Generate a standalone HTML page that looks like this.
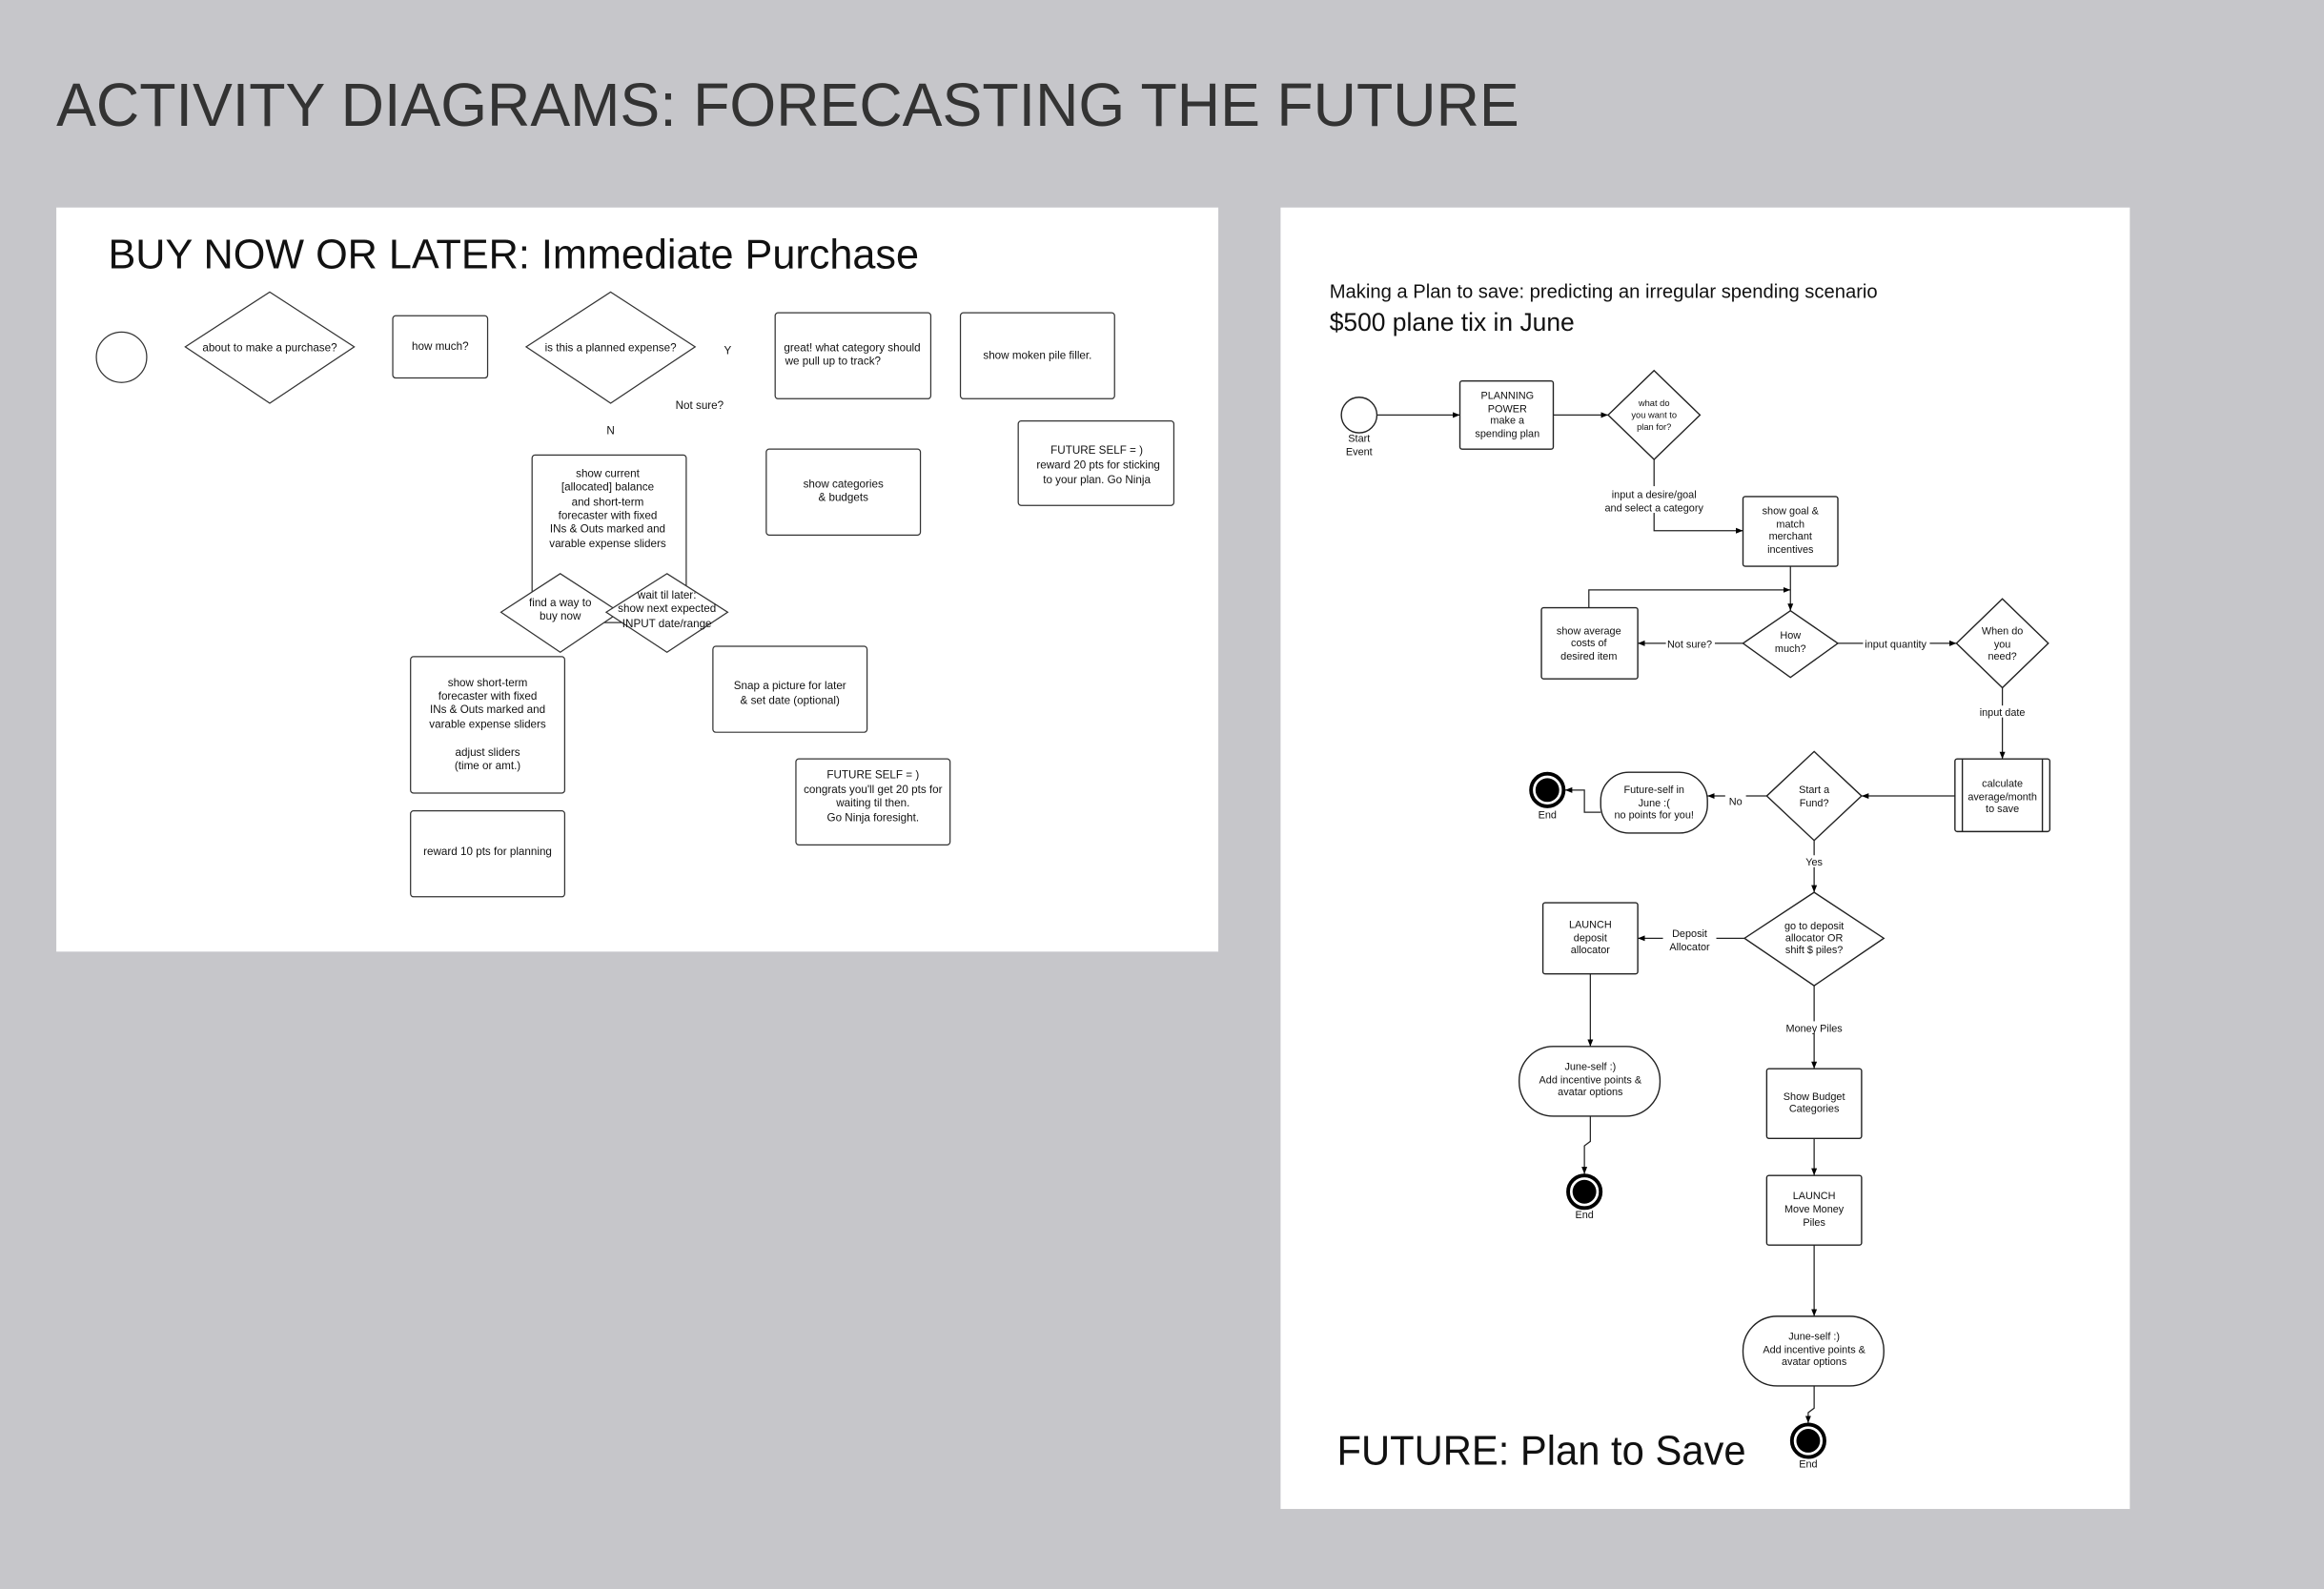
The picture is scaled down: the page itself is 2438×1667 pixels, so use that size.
<!DOCTYPE html>
<html><head><meta charset="utf-8"><style>
html,body{margin:0;padding:0;background:#c6c6ca;}
svg{display:block;}
text{font-family:"Liberation Sans",sans-serif;}
</style></head><body>
<svg width="2438" height="1667" viewBox="0 0 1568 1072" preserveAspectRatio="none" xmlns="http://www.w3.org/2000/svg">
<defs>
<marker id="a" viewBox="0 0 10 10" refX="10" refY="5" markerWidth="6" markerHeight="6" orient="auto"><path d="M0,1 L10,5 L0,9 z" fill="#000"/></marker>
</defs>
<rect width="1568" height="1072" fill="#c6c6ca"/>
<text x="38" y="85" font-size="41" fill="#333" textLength="987" lengthAdjust="spacingAndGlyphs">ACTIVITY DIAGRAMS: FORECASTING THE FUTURE</text>

<!-- LEFT PANEL -->
<rect x="38" y="140" width="784" height="502" fill="#fff"/>
<text x="73" y="181" font-size="28" fill="#111" textLength="547" lengthAdjust="spacingAndGlyphs">BUY NOW OR LATER: Immediate Purchase</text>
<g fill="#fff" stroke="#333" stroke-width="0.8">
<circle cx="82" cy="241" r="17"/>
<path d="M182,197 L239,234 L182,272 L125,234 Z"/>
<rect x="265" y="213" width="64" height="42" rx="2"/>
<path d="M412,197 L469,234 L412,272 L355,234 Z"/>
<rect x="523" y="211" width="105" height="58" rx="2"/>
<rect x="648" y="211" width="104" height="58" rx="2"/>
<rect x="687" y="284" width="105" height="57" rx="2"/>
<rect x="517" y="303" width="104" height="58" rx="2"/>
<rect x="359" y="307" width="104" height="113" rx="2"/>
<path d="M378,387 L418,413 L378,440 L338,413 Z"/>
<path d="M450,387 L491,413 L450,440 L409,413 Z"/>
<rect x="277" y="443" width="104" height="92" rx="2"/>
<rect x="277" y="547" width="104" height="58" rx="2"/>
<rect x="481" y="436" width="104" height="58" rx="2"/>
<rect x="537" y="512" width="104" height="58" rx="2"/>
</g>
<g font-size="7.5" fill="#111" text-anchor="middle">
<text x="182" y="237">about to make a purchase?</text>
<text x="297" y="236">how much?</text>
<text x="412" y="237">is this a planned expense?</text>
<text x="491" y="239">Y</text>
<text x="472" y="276">Not sure?</text>
<text x="412" y="293">N</text>
<text x="575" y="237">great! what category should</text>
<text x="562" y="246">we pull up to track?</text>
<text x="700" y="242">show moken pile filler.</text>
<text x="740" y="306">FUTURE SELF = )</text>
<text x="741" y="316">reward 20 pts for sticking</text>
<text x="740" y="326">to your plan. Go Ninja</text>
<text x="569" y="329">show categories</text>
<text x="569" y="338">&amp; budgets</text>
<text x="410" y="322">show current</text>
<text x="410" y="331">[allocated] balance</text>
<text x="410" y="341">and short-term</text>
<text x="410" y="350">forecaster with fixed</text>
<text x="410" y="359">INs &amp; Outs marked and</text>
<text x="410" y="369">varable expense sliders</text>
<text x="378" y="409">find a way to</text>
<text x="378" y="418">buy now</text>
<text x="450" y="404">wait til later:</text>
<text x="450" y="413">show next expected</text>
<text x="450" y="423">INPUT date/range</text>
<text x="329" y="463">show short-term</text>
<text x="329" y="472">forecaster with fixed</text>
<text x="329" y="481">INs &amp; Outs marked and</text>
<text x="329" y="491">varable expense sliders</text>
<text x="329" y="510">adjust sliders</text>
<text x="329" y="519">(time or amt.)</text>
<text x="329" y="577">reward 10 pts for planning</text>
<text x="533" y="465">Snap a picture for later</text>
<text x="533" y="475">&amp; set date  (optional)</text>
<text x="589" y="525">FUTURE SELF = )</text>
<text x="589" y="535">congrats you'll get 20 pts for</text>
<text x="589" y="544">waiting til then.</text>
<text x="589" y="554">Go Ninja foresight.</text>
</g>

<!-- RIGHT PANEL -->
<rect x="864" y="140" width="573" height="878" fill="#fff"/>
<text x="897" y="201" font-size="13" fill="#111">Making a Plan to save: predicting an irregular spending scenario</text>
<text x="897" y="223" font-size="17" fill="#111">$500 plane tix in June</text>
<text x="902" y="988" font-size="28" fill="#111" textLength="276" lengthAdjust="spacingAndGlyphs">FUTURE: Plan to Save</text>

<g fill="none" stroke="#222" stroke-width="0.8">
<line x1="929" y1="280" x2="985" y2="280" marker-end="url(#a)"/>
<line x1="1048" y1="280" x2="1085" y2="280" marker-end="url(#a)"/>
<polyline points="1116,310 1116,358 1176,358" marker-end="url(#a)"/>
<line x1="1208" y1="382" x2="1208" y2="412" marker-end="url(#a)"/>
<polyline points="1072,410 1072,398 1208,398" marker-end="url(#a)"/>
<line x1="1176" y1="434" x2="1105" y2="434" marker-end="url(#a)"/>
<line x1="1240" y1="434" x2="1320" y2="434" marker-end="url(#a)"/>
<line x1="1351" y1="464" x2="1351" y2="512" marker-end="url(#a)"/>
<line x1="1319" y1="537" x2="1256" y2="537" marker-end="url(#a)"/>
<line x1="1192" y1="537" x2="1152" y2="537" marker-end="url(#a)"/>
<polyline points="1080,548 1069,548 1069,533 1056,533" marker-end="url(#a)"/>
<line x1="1224" y1="567" x2="1224" y2="602" marker-end="url(#a)"/>
<line x1="1177" y1="633" x2="1105" y2="633" marker-end="url(#a)"/>
<line x1="1073" y1="657" x2="1073" y2="706" marker-end="url(#a)"/>
<polyline points="1073,753 1073,770 1069,773 1069,792" marker-end="url(#a)"/>
<line x1="1224" y1="665" x2="1224" y2="721" marker-end="url(#a)"/>
<line x1="1224" y1="768" x2="1224" y2="793" marker-end="url(#a)"/>
<line x1="1224" y1="840" x2="1224" y2="888" marker-end="url(#a)"/>
<polyline points="1224,935 1224,950 1220,953 1220,960" marker-end="url(#a)"/>
</g>
<g fill="#fff" stroke="#222" stroke-width="0.9">
<circle cx="917" cy="280" r="12"/>
<rect x="985" y="257" width="63" height="46" rx="1.5"/>
<path d="M1116,250 L1147,280 L1116,310 L1085,280 Z"/>
<rect x="1176" y="335" width="64" height="47" rx="1.5"/>
<rect x="1040" y="410" width="65" height="48" rx="1.5"/>
<path d="M1208,412 L1240,434 L1208,457 L1176,434 Z"/>
<path d="M1351,404 L1382,434 L1351,464 L1320,434 Z"/>
<rect x="1319" y="512" width="64" height="49" rx="1.5"/>
<line x1="1324" y1="512" x2="1324" y2="561"/>
<line x1="1378" y1="512" x2="1378" y2="561"/>
<path d="M1224,507 L1256,537 L1224,567 L1192,537 Z"/>
<rect x="1080" y="521" width="72" height="41" rx="19"/>
<path d="M1224,602 L1271,633 L1224,665 L1177,633 Z"/>
<rect x="1041" y="609" width="64" height="48" rx="1.5"/>
<rect x="1025" y="706" width="95" height="47" rx="23"/>
<rect x="1192" y="721" width="64" height="47" rx="1.5"/>
<rect x="1192" y="793" width="64" height="47" rx="1.5"/>
<rect x="1176" y="888" width="95" height="47" rx="23"/>
</g>
<g>
<circle cx="1044" cy="533" r="11" fill="#fff" stroke="#000" stroke-width="2.5"/><circle cx="1044" cy="533" r="8" fill="#000"/>
<circle cx="1069" cy="804" r="11" fill="#fff" stroke="#000" stroke-width="2.5"/><circle cx="1069" cy="804" r="8" fill="#000"/>
<circle cx="1220" cy="972" r="11" fill="#fff" stroke="#000" stroke-width="2.5"/><circle cx="1220" cy="972" r="8" fill="#000"/>
</g>
<g font-size="7" fill="#111" text-anchor="middle">
<text x="917" y="298">Start</text><text x="917" y="307">Event</text>
<text x="1017" y="269">PLANNING</text><text x="1017" y="278">POWER</text><text x="1017" y="286">make a</text><text x="1017" y="295">spending plan</text>
<text x="1116" y="274" font-size="6">what do</text><text x="1116" y="282" font-size="6">you want to</text><text x="1116" y="290" font-size="6">plan for?</text>
<rect x="1080" y="328" width="72" height="18" fill="#fff"/>
<text x="1116" y="336">input a desire/goal</text><text x="1116" y="345">and select a category</text>
<text x="1208" y="347">show goal &amp;</text><text x="1208" y="356">match</text><text x="1208" y="364">merchant</text><text x="1208" y="373">incentives</text>
<text x="1072" y="428">show average</text><text x="1072" y="436">costs of</text><text x="1072" y="445">desired item</text>
<text x="1208" y="431">How</text><text x="1208" y="440">much?</text>
<rect x="1124" y="430" width="33" height="8" fill="#fff"/><text x="1140" y="437">Not sure?</text>
<rect x="1257" y="430" width="45" height="8" fill="#fff"/><text x="1279" y="437">input quantity</text>
<text x="1351" y="428">When do</text><text x="1351" y="437">you</text><text x="1351" y="445">need?</text>
<rect x="1333" y="476" width="36" height="8" fill="#fff"/><text x="1351" y="483">input date</text>
<text x="1351" y="531">calculate</text><text x="1351" y="540">average/month</text><text x="1351" y="548">to save</text>
<text x="1224" y="535">Start a</text><text x="1224" y="544">Fund?</text>
<rect x="1164" y="536" width="14" height="8" fill="#fff"/><text x="1171" y="543">No</text>
<text x="1116" y="535">Future-self in</text><text x="1116" y="544">June :(</text><text x="1116" y="552">no points for you!</text>
<text x="1044" y="552">End</text>
<rect x="1214" y="577" width="20" height="8" fill="#fff"/><text x="1224" y="584">Yes</text>
<text x="1224" y="627">go to deposit</text><text x="1224" y="635">allocator OR</text><text x="1224" y="643">shift $ piles?</text>
<rect x="1122" y="625" width="36" height="17" fill="#fff"/>
<text x="1140" y="632">Deposit</text><text x="1140" y="641">Allocator</text>
<text x="1073" y="626">LAUNCH</text><text x="1073" y="635">deposit</text><text x="1073" y="643">allocator</text>
<text x="1073" y="722">June-self :)</text><text x="1073" y="731">Add incentive points &amp;</text><text x="1073" y="739">avatar options</text>
<text x="1069" y="822">End</text>
<rect x="1201" y="689" width="46" height="8" fill="#fff"/><text x="1224" y="696">Money Piles</text>
<text x="1224" y="742">Show Budget</text><text x="1224" y="750">Categories</text>
<text x="1224" y="809">LAUNCH</text><text x="1224" y="818">Move Money</text><text x="1224" y="827">Piles</text>
<text x="1224" y="904">June-self :)</text><text x="1224" y="913">Add incentive points &amp;</text><text x="1224" y="921">avatar options</text>
<text x="1220" y="990">End</text>
</g>
</svg>
</body></html>
